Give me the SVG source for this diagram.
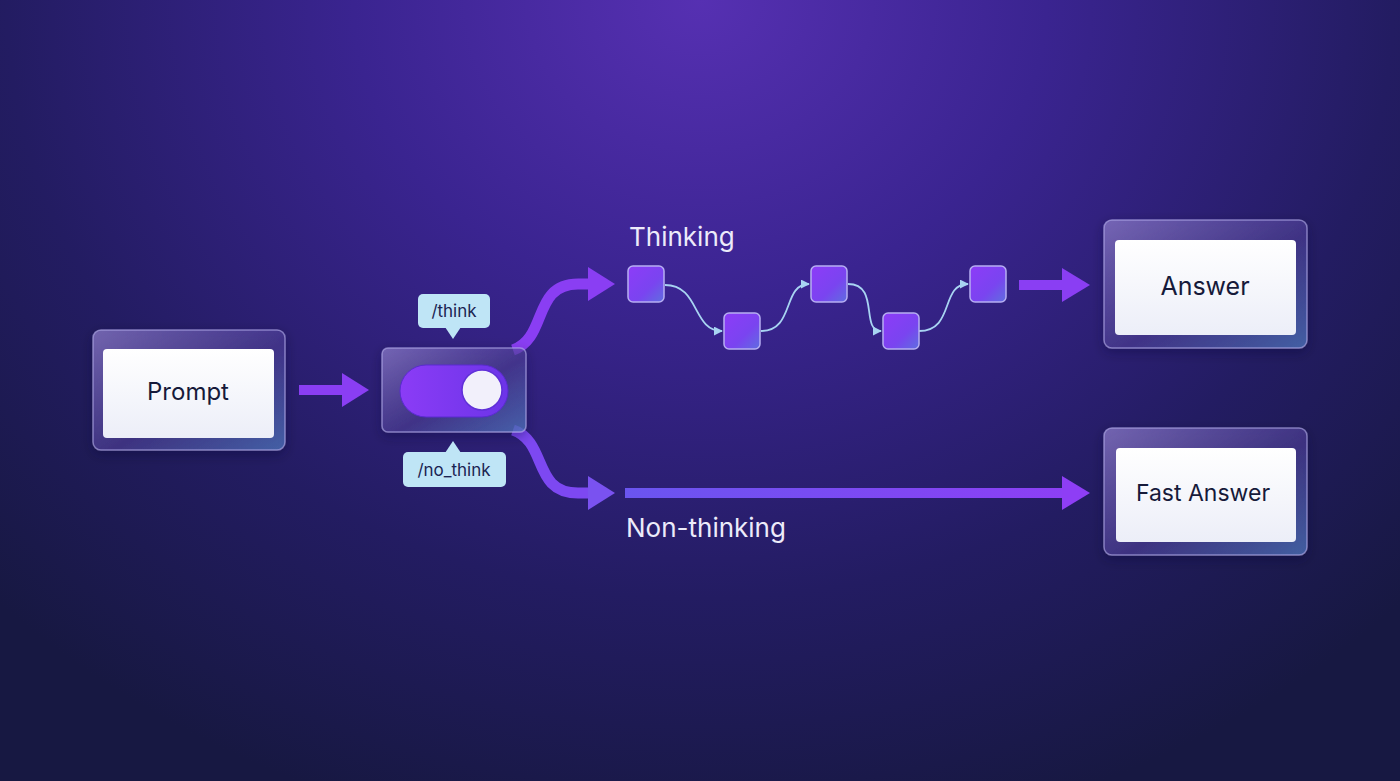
<svg xmlns="http://www.w3.org/2000/svg" width="1400" height="781" viewBox="0 0 1400 781">
<defs>
  <radialGradient id="bg" cx="700" cy="0" r="900" gradientUnits="userSpaceOnUse" gradientTransform="translate(700 0) scale(1.1 0.95) translate(-700 0)">
    <stop offset="0" stop-color="#5630b2"/>
    <stop offset="0.35" stop-color="#3a2490"/>
    <stop offset="0.7" stop-color="#231c62"/>
    <stop offset="1" stop-color="#171842"/>
  </radialGradient>
  <linearGradient id="glass" x1="0" y1="0" x2="1" y2="1">
    <stop offset="0" stop-color="#8a7ac8" stop-opacity="0.75"/>
    <stop offset="0.55" stop-color="#4e3f9a" stop-opacity="0.6"/>
    <stop offset="1" stop-color="#5078c0" stop-opacity="0.7"/>
  </linearGradient>
  <linearGradient id="card" x1="0" y1="0" x2="0" y2="1">
    <stop offset="0" stop-color="#ffffff"/>
    <stop offset="1" stop-color="#eceef8"/>
  </linearGradient>
  <linearGradient id="sq" x1="0" y1="0" x2="1" y2="1">
    <stop offset="0" stop-color="#8d3cf8"/>
    <stop offset="0.6" stop-color="#7a44f0"/>
    <stop offset="1" stop-color="#5f6ee0"/>
  </linearGradient>
  <linearGradient id="pill" x1="0" y1="0" x2="1" y2="0">
    <stop offset="0" stop-color="#8b3cf6"/>
    <stop offset="1" stop-color="#6c34e8"/>
  </linearGradient>
  <linearGradient id="fastline" x1="625" y1="0" x2="1090" y2="0" gradientUnits="userSpaceOnUse">
    <stop offset="0" stop-color="#6a55f0"/>
    <stop offset="1" stop-color="#8e3ef5"/>
  </linearGradient>
  <marker id="ah" viewBox="0 0 10 10" refX="9" refY="5" markerWidth="9" markerHeight="9" orient="auto" markerUnits="userSpaceOnUse">
    <path d="M0 0 L10 5 L0 10 z" fill="#a8d4f2"/>
  </marker>
  <filter id="sh" x="-20%" y="-20%" width="140%" height="140%">
    <feDropShadow dx="0" dy="4" stdDeviation="6" flood-color="#0a0830" flood-opacity="0.5"/>
  </filter>
</defs>
<style>
  .glass{fill:url(#glass);stroke:#b8b0ec;stroke-opacity:0.6;stroke-width:1.5}
  .card{fill:url(#card)}
  .lbl{font-family:Inter,"Noto Sans",sans-serif;fill:#161a3a;text-anchor:middle}
  .path-lbl{font-family:Inter,"Noto Sans",sans-serif;fill:#ecebfa;font-size:26px}
  .tag{fill:#bfe5f6}
  .tagt{font-family:Inter,"Noto Sans",sans-serif;fill:#1a2352;font-size:17px;text-anchor:middle}
  .sq{fill:url(#sq);stroke:#b6aef2;stroke-width:1.5}
  .thin{fill:none;stroke:#a8d4f2;stroke-width:1.8;marker-end:url(#ah)}
  .big{fill:#8a3ef3}
  .bigline{fill:none;stroke:#8a3ef3;stroke-width:11}
</style>
<rect width="1400" height="781" fill="url(#bg)"/>

<g id="connectors">
  <rect x="299" y="385" width="45" height="10" class="big"/>
  <polygon points="342,373 369,390 342,407" class="big"/>
  <path d="M513 350 C 548 338, 532 284, 578 284 L 592 284" class="bigline"/>
  <polygon points="588,267 615,284 588,301" class="big"/>
  <path d="M513 430 C 548 442, 532 493, 578 493 L 592 493" class="bigline" style="stroke:#7d48f2"/>
  <polygon points="588,476 615,493 588,510" fill="#7a52f0"/>
  <path d="M665 285 C 700 285, 692 331, 722 331" class="thin"/>
  <path d="M761 331 C 795 331, 782 284, 809 284" class="thin"/>
  <path d="M848 284 C 880 284, 860 331, 881 331" class="thin"/>
  <path d="M919 331 C 955 331, 940 284, 968 284" class="thin"/>
  <rect x="1019" y="280" width="45" height="10" class="big"/>
  <polygon points="1062,268 1090,285 1062,302" class="big"/>
  <rect x="625" y="488" width="440" height="10" fill="url(#fastline)"/>
  <polygon points="1062,476 1090,493 1062,510" fill="#8e3ef5"/>
</g>

<g id="prompt">
  <rect x="93" y="330" width="192" height="120" rx="8" class="glass" filter="url(#sh)"/>
  <rect x="103" y="349" width="171" height="89" rx="4" class="card"/>
  <text x="188" y="400" class="lbl" font-size="24">Prompt</text>
</g>

<g id="toggle">
  <rect x="382" y="348" width="144" height="84" rx="6" class="glass" filter="url(#sh)"/>
  <rect x="400" y="365" width="108" height="52" rx="26" fill="url(#pill)" stroke="#5a2ad0" stroke-width="1"/>
  <circle cx="482" cy="390" r="20" fill="#f2f0fb" stroke="#6030d8" stroke-width="1.5"/>
</g>

<g id="think-tag">
  <rect x="418" y="294" width="72" height="34" rx="5" class="tag"/>
  <polygon points="445,327 461,327 453,339" class="tag"/>
  <text x="454" y="317" class="tagt">/think</text>
</g>

<g id="nothink-tag">
  <rect x="403" y="452" width="103" height="35" rx="5" class="tag"/>
  <polygon points="445,453 461,453 453,441" class="tag"/>
  <text x="454" y="476" class="tagt">/no_think</text>
</g>

<text x="629" y="246" class="path-lbl">Thinking</text>
<text x="626" y="537" class="path-lbl">Non-thinking</text>

<g id="step1"><rect x="628" y="266" width="36" height="36" rx="5" class="sq"/></g>
<g id="step2"><rect x="724" y="313" width="36" height="36" rx="5" class="sq"/></g>
<g id="step3"><rect x="811" y="266" width="36" height="36" rx="5" class="sq"/></g>
<g id="step4"><rect x="883" y="313" width="36" height="36" rx="5" class="sq"/></g>
<g id="step5"><rect x="970" y="266" width="36" height="36" rx="5" class="sq"/></g>

<g id="answer">
  <rect x="1104" y="220" width="203" height="128" rx="8" class="glass" filter="url(#sh)"/>
  <rect x="1115" y="240" width="181" height="95" rx="4" class="card"/>
  <text x="1205" y="295" class="lbl" font-size="25">Answer</text>
</g>

<g id="fast-answer">
  <rect x="1104" y="428" width="203" height="127" rx="8" class="glass" filter="url(#sh)"/>
  <rect x="1116" y="448" width="180" height="94" rx="4" class="card"/>
  <text x="1203" y="501" class="lbl" font-size="23">Fast Answer</text>
</g>
</svg>
